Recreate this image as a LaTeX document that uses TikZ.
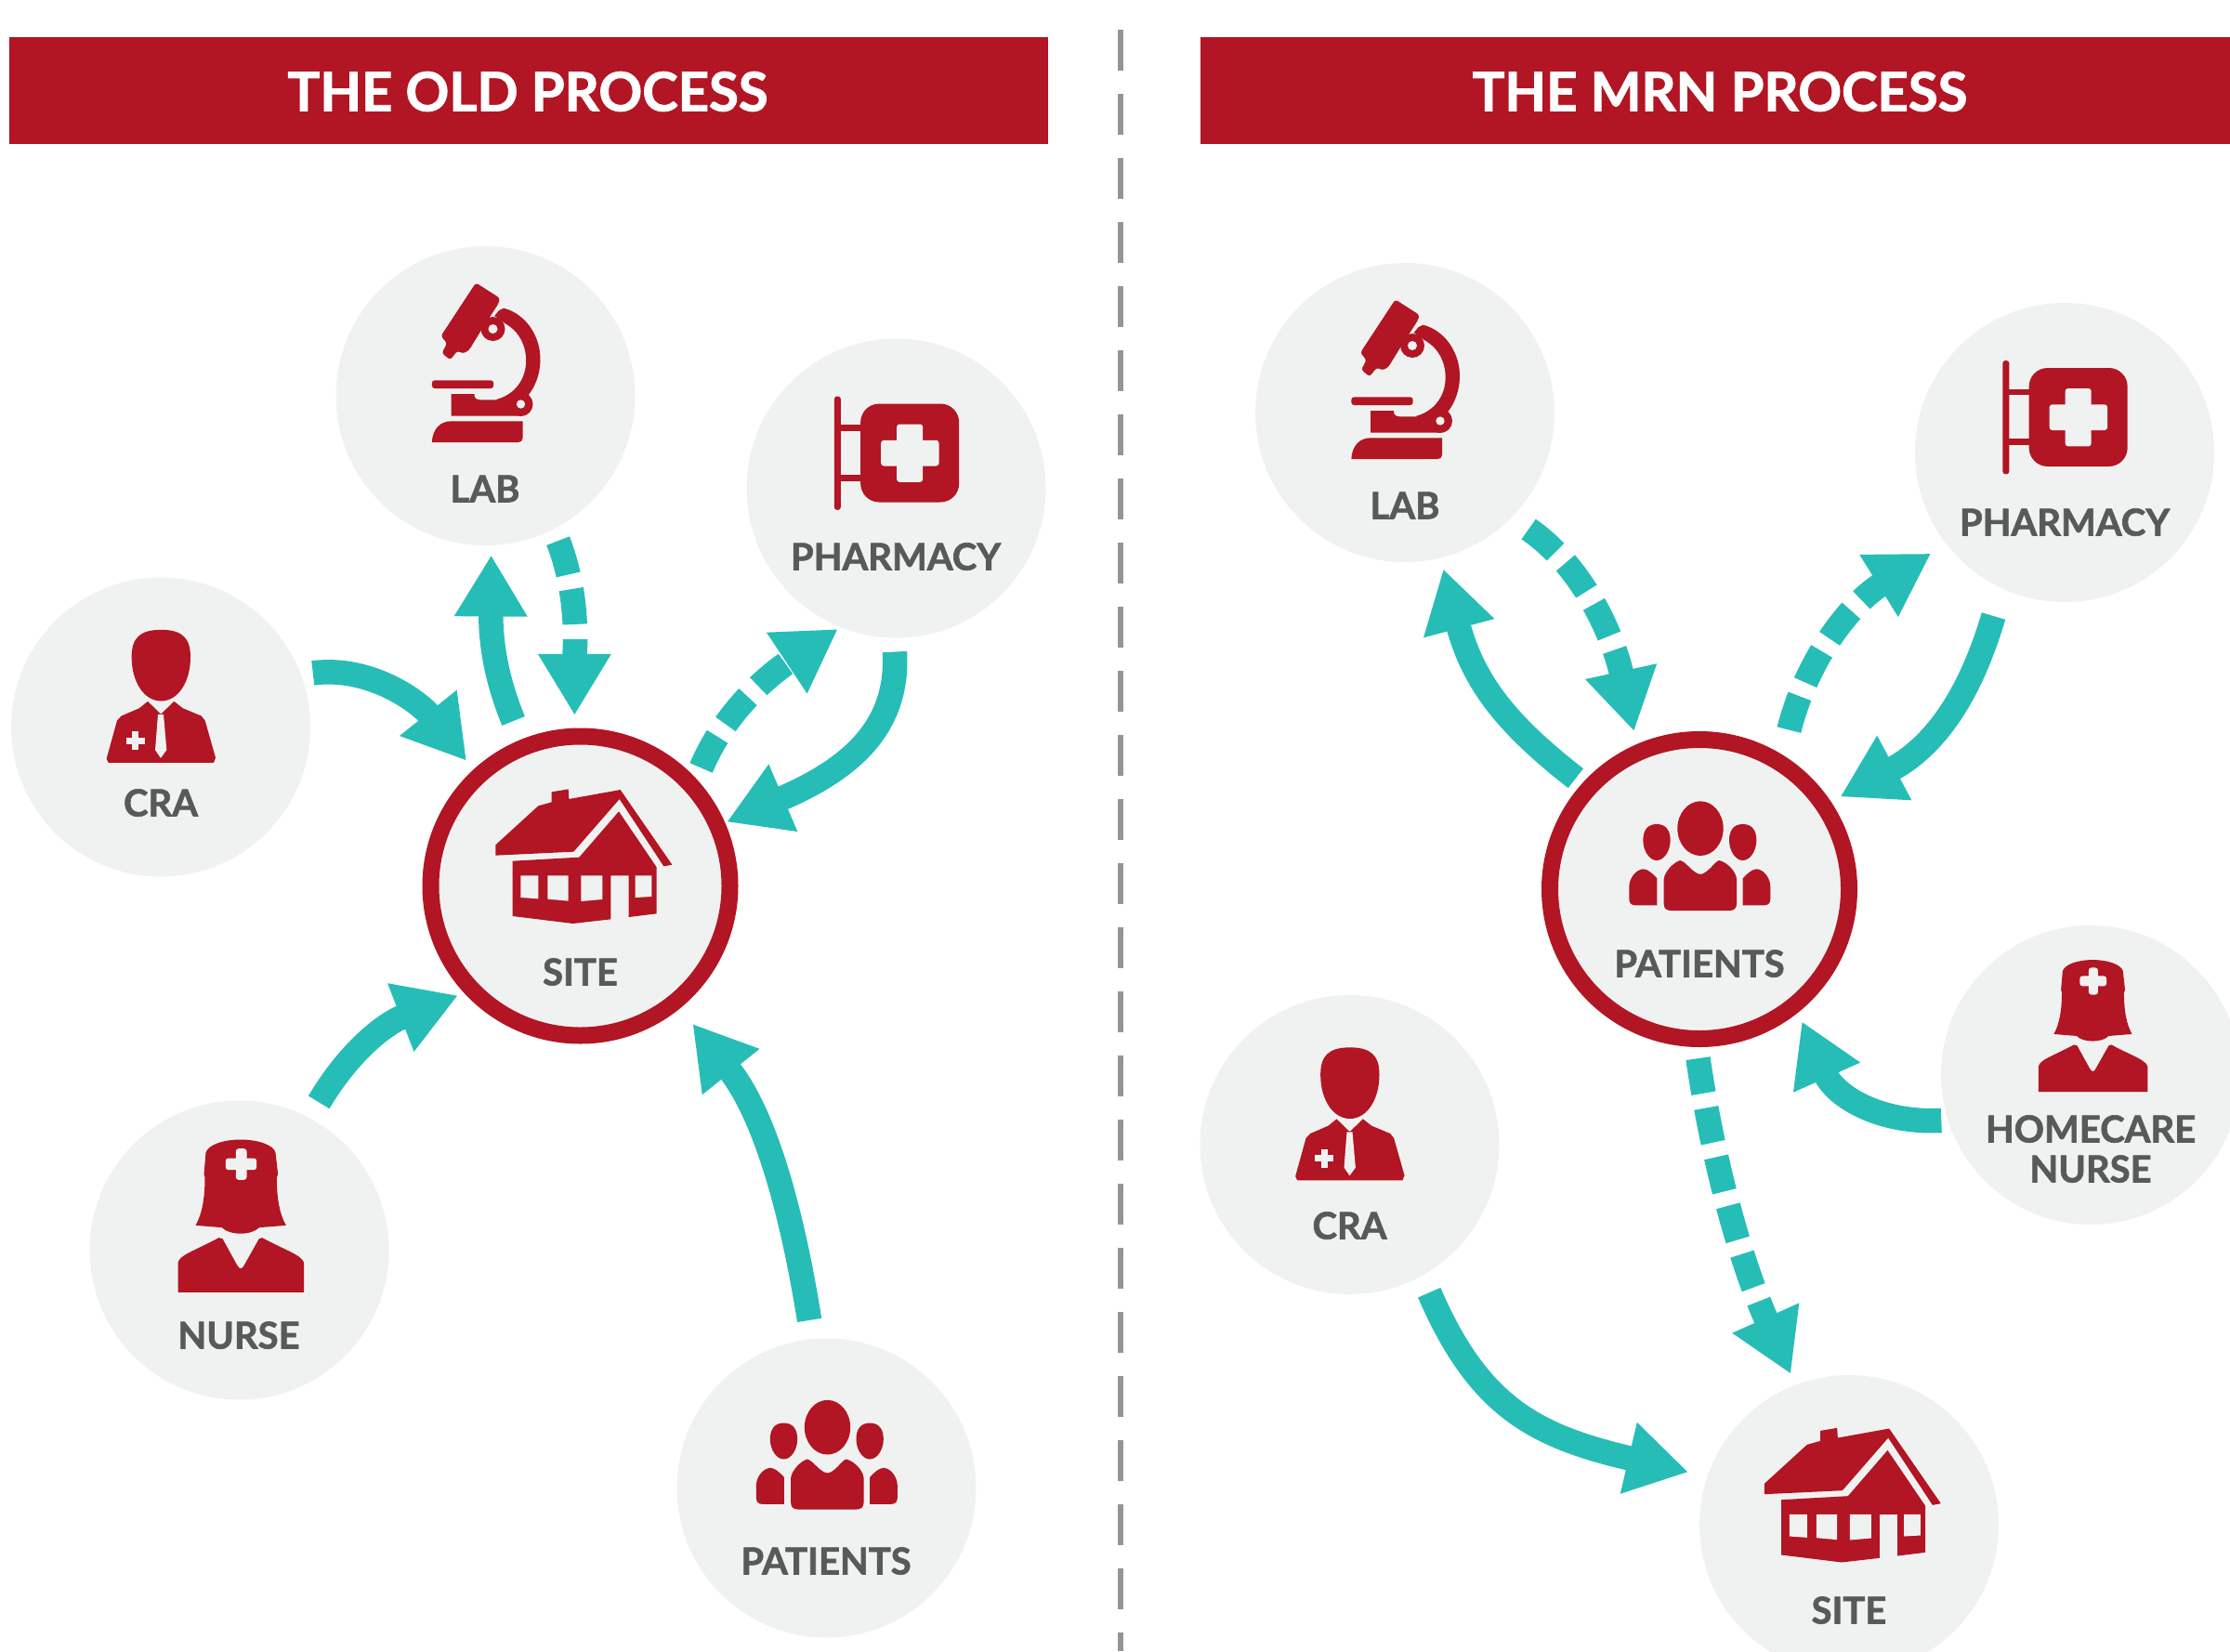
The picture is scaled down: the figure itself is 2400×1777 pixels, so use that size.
\documentclass[tikz,border=0pt]{standalone}
\usepackage{fontspec}
\setmainfont{Lato}[BoldFeatures={FakeBold=1.6}]
\usetikzlibrary{arrows.meta}
\definecolor{brandred}{HTML}{B21523}
\definecolor{disc}{HTML}{F0F2F1}
\definecolor{teal}{HTML}{27BDB7}
\definecolor{labelgrey}{HTML}{58595B}
\definecolor{divider}{HTML}{939598}
\tikzset{
  disc node/.style={circle,fill=disc,draw=none,minimum size=322pt,inner sep=0pt,outer sep=0pt},
  hub node/.style={circle,fill=disc,draw=brandred,line width=18pt,minimum size=322pt,inner sep=0pt,outer sep=0pt},
  lbl/.style={font=\fontsize{40}{43}\selectfont\bfseries,text=labelgrey,anchor=base,inner sep=0pt,align=center},
  banner/.style={fill=brandred,draw=none,inner sep=0pt,outer sep=0pt,anchor=north west},
  title/.style={font=\fontsize{58}{60}\selectfont\bfseries,text=white,inner sep=0pt,anchor=base},
  flow/.style={draw=teal,line width=26.5pt,-{Triangle[length=66pt,width=74pt]}},
  dflow/.style={flow,dash pattern=on 38pt off 16pt},
  ico/.style={fill=brandred,draw=none},
  hole/.style={fill=disc,draw=none},
}
% each icon: zoom-crop coordinates (3 units = 1 px), #1 = centre, #2,#3 = crop coordinates of the centre
\newcommand{\icoscope}[3]{\begin{scope}[shift={(#1)},x=0.33333pt,y=-0.33333pt,shift={(-#2,-#3)}]}
\newcommand{\labicon}[1]{\icoscope{#1}{486}{498}
  \fill[ico,rounded corners=3pt] (455,133) -- (533,183) -- (528,200) -- (470,290) -- (432,352) -- (412,362) -- (396,352) -- (372,382) -- (345,360) -- (362,328) -- (342,305) -- cycle;
  \fill[ico] (545,215) .. controls (620,235) and (665,310) .. (663,385) .. controls (662,430) and (645,470) .. (625,495) -- (580,530) -- (520,510) .. controls (580,495) and (617,445) .. (617,385) .. controls (617,335) and (595,290) .. (550,265) -- (515,240) -- (530,222) -- cycle;
  \fill[ico] (510,282) circle[radius=39];
  \fill[hole] (510,282) circle[radius=15];
  \fill[ico,rounded corners=3pt] (313,448) rectangle (512,474);
  \fill[ico] (375,492) -- (450,492) -- (450,498) .. controls (452,508) and (460,511) .. (468,511) -- (560,511) -- (600,563) -- (375,563) -- cycle;
  \fill[ico] (600,525) circle[radius=39];
  \fill[hole] (600,525) circle[radius=14];
  \fill[ico] (313,648) .. controls (315,605) and (340,580) .. (375,580) -- (606,580) -- (606,635) .. controls (606,643) and (600,648) .. (592,648) -- cycle;
\end{scope}}
\newcommand{\pharmicon}[1]{\icoscope{#1}{312}{375}
  \fill[ico,rounded corners=3pt] (112,78) rectangle (133,445);
  \fill[ico] (125,170) rectangle (205,190);
  \fill[ico] (125,331) rectangle (205,352);
  \fill[ico,rounded corners=20pt] (197,102) rectangle (515,420);
  \fill[hole,rounded corners=3pt] (314,168) rectangle (398,355);
  \fill[hole,rounded corners=3pt] (263,220) rectangle (450,303);
\end{scope}}
\newcommand{\houseicon}[1]{\icoscope{#1}{373.5}{400.5}
  \fill[ico] (100,268) -- (238,142) -- (281,130) -- (281,97) -- (335,88) -- (337,120) -- (503,90) -- (670,332) -- (643,337) -- (500,120) -- (352,290) -- (100,302) -- cycle;
  \fill[ico] (155,320) -- (370,308) -- (498,160) -- (620,340) -- (620,490) -- (530,501) -- (530,367) -- (472,367) -- (472,508) -- (350,522) -- (155,498) -- cycle;
  \fill[hole] (181,367) -- (238,367) -- (238,442) -- (181,438) -- cycle;
  \fill[hole] (268,367) -- (335,367) -- (335,449) -- (268,443) -- cycle;
  \fill[hole] (376,367) -- (445,367) -- (445,444) -- (376,450) -- cycle;
  \fill[hole] (551,367) -- (604,367) -- (604,435) -- (551,438) -- cycle;
\end{scope}}
\newcommand{\craicon}[1]{\icoscope{#1}{219}{366}
  \fill[ico] (220,52) .. controls (150,52) and (125,80) .. (125,140) .. controls (125,220) and (165,282) .. (220,282) .. controls (275,282) and (315,220) .. (315,140) .. controls (315,80) and (290,52) .. (220,52) -- cycle;
  \fill[ico] (44,468) -- (78,345) -- (92,330) -- (150,305) -- (177,283) -- (217,322) -- (222,322) -- (262,283) -- (290,305) -- (350,330) -- (362,345) -- (396,465) -- (390,481) -- (50,481) -- cycle;
  \fill[hole] (210,325) -- (228,325) -- (238,440) -- (219,466) -- (201,440) -- cycle;
  \fill[hole] (107,399) rectangle (167,421);
  \fill[hole] (126,380) rectangle (148,440);
\end{scope}}
% #1 centre, #2 scale
\newcommand{\nurseicon}[2]{\begin{scope}[shift={(#1)},x=#2*0.33333pt,y=-#2*0.33333pt,shift={(-261,-405)}]
  \fill[ico] (265,48) .. controls (210,48) and (160,65) .. (153,90) -- (147,160) -- (150,170) .. controls (150,240) and (140,290) .. (120,325) -- (205,332) .. controls (230,358) and (300,358) .. (325,332) -- (412,325) .. controls (392,290) and (382,240) .. (382,170) -- (386,160) -- (378,90) .. controls (372,65) and (320,48) .. (265,48) -- cycle;
  \fill[hole,rounded corners=3pt] (250,77) rectangle (285,178);
  \fill[hole,rounded corners=3pt] (217,108) rectangle (317,146);
  \fill[ico] (63,541) -- (63,445) .. controls (70,420) and (110,410) .. (195,365) -- (207,368) -- (255,455) .. controls (262,467) and (270,467) .. (276,455) -- (325,368) -- (335,365) .. controls (420,410) and (460,420) .. (470,445) -- (470,541) -- cycle;
\end{scope}}
\newcommand{\patientsicon}[1]{\icoscope{#1}{327}{363}
  \fill[ico] (330,167) ellipse[x radius=74,y radius=88];
  \fill[ico] (189,153) .. controls (220,153) and (233,175) .. (233,205) .. controls (233,240) and (212,270) .. (189,270) .. controls (166,270) and (145,240) .. (145,205) .. controls (145,175) and (158,153) .. (189,153) -- cycle;
  \fill[ico] (467,153) .. controls (498,153) and (511,175) .. (511,205) .. controls (511,240) and (490,270) .. (467,270) .. controls (444,270) and (423,240) .. (423,205) .. controls (423,175) and (436,153) .. (467,153) -- cycle;
  \fill[ico] (212,330) .. controls (215,305) and (245,275) .. (265,270) .. controls (285,275) and (305,312) .. (330,315) .. controls (355,312) and (375,275) .. (390,270) .. controls (415,275) and (445,305) .. (447,330) -- (447,410) .. controls (447,425) and (438,432) .. (425,432) -- (235,432) .. controls (220,432) and (212,425) .. (212,410) -- cycle;
  \fill[ico] (190,328) .. controls (175,312) and (160,298) .. (145,298) .. controls (120,300) and (100,330) .. (100,355) -- (100,395) .. controls (100,408) and (108,415) .. (120,415) -- (190,415) -- cycle;
  \fill[ico] (467,328) .. controls (482,312) and (497,298) .. (512,298) .. controls (537,300) and (556,330) .. (556,355) -- (556,395) .. controls (556,408) and (548,415) .. (536,415) -- (467,415) -- cycle;
\end{scope}}
\begin{document}
\begin{tikzpicture}[x=1pt,y=-1pt]
\clip (0,0) rectangle (2400,1777);
\fill[white] (0,0) rectangle (2400,1777);
% headers
\node[banner,minimum width=1118pt,minimum height=115pt] (hdrO) at (10,40) {};
\node[banner,minimum width=1108pt,minimum height=115pt] (hdrN) at (1292,40) {};
\node[title] (ttlO) at (568,119.5) {THE OLD PROCESS};
\node[title] (ttlN) at (1851,119.5) {THE MRN PROCESS};
% divider
\coordinate (divT) at (1206,32);
\coordinate (divB) at (1206,1777);
\draw[divider,line width=6pt,dash pattern=on 44pt off 25pt] (divT) -- (divB);
% discs
\node[disc node] (labO) at (522.5,426) {};
\node[disc node] (pharmO) at (964.5,525.5) {};
\node[disc node] (craO) at (173,782.5) {};
\node[hub node] (siteO) at (624.5,953.5) {};
\node[disc node] (nurseO) at (257.5,1345.5) {};
\node[disc node] (patO) at (889.5,1601.5) {};
\node[disc node] (labN) at (1512,444) {};
\node[disc node] (pharmN) at (2222,487) {};
\node[hub node] (patN) at (1829,957) {};
\node[disc node] (homeN) at (2250,1157) {};
\node[disc node] (craN) at (1452.5,1232) {};
\node[disc node] (siteN) at (1990,1641) {};
% icons
\labicon{labO.center}
\labicon{labN.center}
\pharmicon{pharmO.center}
\pharmicon{pharmN.center}
\craicon{craO.center}
\craicon{craN.center}
\houseicon{siteO.center}
\houseicon{siteN.center}
\nurseicon{nurseO.center}{1}
\nurseicon{2251,1136}{0.865}
\patientsicon{patO.center}
\patientsicon{patN.center}
% labels
\node[lbl] (tLabO) at (522,540.5) {LAB};
\node[lbl] (tPharmO) at (964,613.5) {PHARMACY};
\node[lbl] (tCraO) at (173,878.5) {CRA};
\node[lbl] (tSiteO) at (624.5,1060.5) {SITE};
\node[lbl] (tNurseO) at (257,1451.5) {NURSE};
\node[lbl] (tPatO) at (889,1694.5) {PATIENTS};
\node[lbl] (tLabN) at (1512,558.5) {LAB};
\node[lbl] (tPharmN) at (2222,576.5) {PHARMACY};
\node[lbl] (tPatN) at (1829,1051.5) {PATIENTS};
\node[lbl] (tHome1) at (2250,1229.5) {HOMECARE};
\node[lbl] (tHome2) at (2250,1272.5) {NURSE};
\node[lbl] (tCraN) at (1452.5,1333.5) {CRA};
\node[lbl] (tSiteN) at (1990,1747.5) {SITE};
% connectors (display units = 1/1.5306 of a pixel)
\begin{scope}[x=1.5306pt,y=-1.5306pt]
\draw[flow] ([shift={(107,-38)}]craO.center) .. controls (262,468) and (296,495) .. ([shift={(-80,-88)}]siteO.center);
\draw[flow] ([shift={(-47,-116)}]siteO.center) .. controls (350,480) and (345,455) .. ([shift={(4,112)}]labO.center);
\draw[dflow] ([shift={(51,102)}]labO.center) .. controls (408,420) and (404,460) .. ([shift={(-4,-120)}]siteO.center);
\draw[dflow] ([shift={(85,-83)}]siteO.center) .. controls (510,500) and (540,475) .. ([shift={(-41,99)}]pharmO.center);
\draw[flow] ([shift={(-1,115)}]pharmO.center) .. controls (632,510) and (600,540) .. ([shift={(103,-45)}]siteO.center);
\draw[flow] ([shift={(56,-104)}]nurseO.center) .. controls (245,740) and (270,720) .. ([shift={(-86,77)}]siteO.center);
\draw[flow] ([shift={(-12,-118)}]patO.center) .. controls (555,840) and (535,780) .. ([shift={(79,97)}]siteO.center);
\draw[flow] ([shift={(-87,-78)}]patN.center) .. controls (1060,510) and (1036,480) .. ([shift={(27,110)}]labN.center);
\draw[dflow] ([shift={(87,82)}]labN.center) .. controls (1115,400) and (1135,450) .. ([shift={(-46,-111)}]patN.center);
\draw[dflow] ([shift={(63,-112)}]patN.center) .. controls (1270,465) and (1300,425) .. ([shift={(-94,71)}]pharmN.center);
\draw[flow] ([shift={(-50,115)}]pharmN.center) .. controls (1385,490) and (1360,525) .. ([shift={(99,-65)}]patN.center);
\draw[flow] ([shift={(-105,32)}]homeN.center) .. controls (1320,790) and (1290,770) .. ([shift={(72,93)}]patN.center);
\draw[flow] ([shift={(56,104)}]craN.center) .. controls (1040,990) and (1080,1010) .. ([shift={(-113,-37)}]siteN.center);
\draw[dflow] ([shift={(-1,119)}]patN.center) .. controls (1205,820) and (1225,890) .. ([shift={(-41,-106)}]siteN.center);
\end{scope}
\end{tikzpicture}
\end{document}
